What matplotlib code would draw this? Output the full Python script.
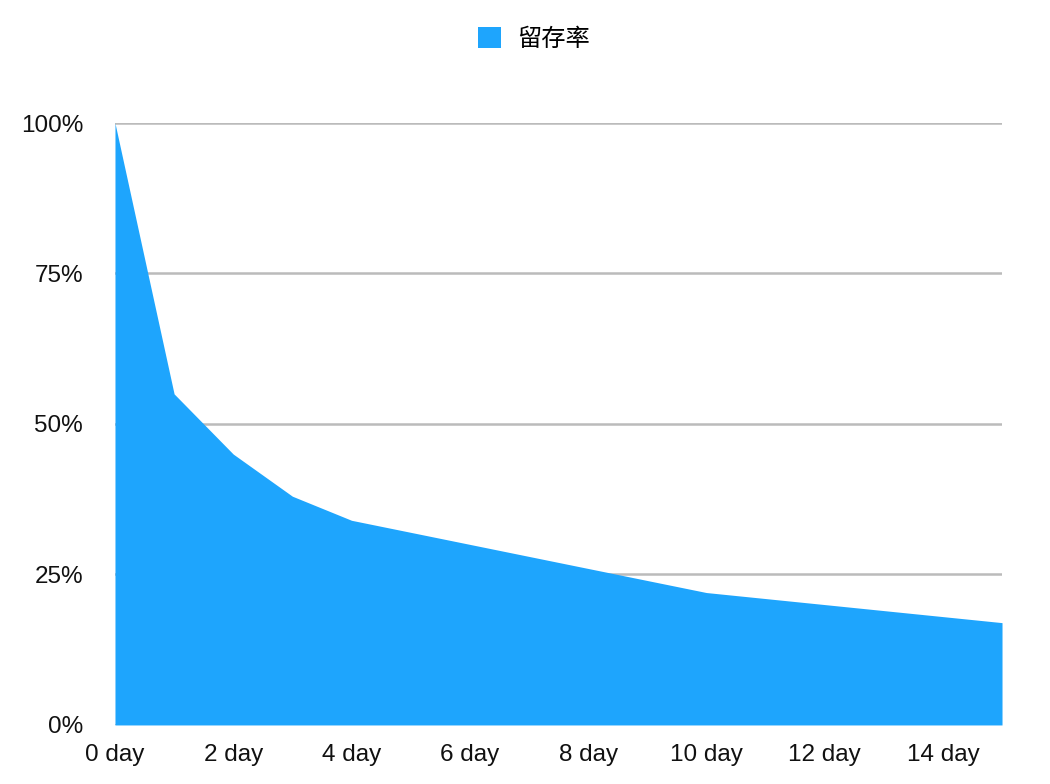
import matplotlib
matplotlib.use("Agg")
import matplotlib.pyplot as plt
from matplotlib.patches import Patch

plt.rcParams["font.family"] = ["Liberation Sans", "Noto Sans CJK SC", "DejaVu Sans"]

# retention by day
days = list(range(16))
retention = [100, 55, 45, 38, 34, 32, 30, 28, 26, 24, 22, 21, 20, 19, 18, 17]
tick_days = [0, 2, 4, 6, 8, 10, 12, 14]
tick_pcts = [0, 25, 50, 75, 100]
series_name = "留存率"

fill_color = "#1EA5FD"

fig = plt.figure(figsize=(10.5, 7.84), dpi=100)
ax = fig.add_axes([0.1095, 0.0753, 0.8448, 0.7678])

ax.fill_between(days, retention, 0, color=fill_color, linewidth=0, zorder=2)

ax.set_xlim(0, 15)
ax.set_ylim(0, 100)
ax.set_xticks(tick_days)
ax.set_xticklabels([f"{d} day" for d in tick_days])
ax.set_yticks(tick_pcts)
ax.set_yticklabels([f"{p}%" for p in tick_pcts], va="center_baseline")

ax.grid(axis="y", color="#BBBBBB", linewidth=1.8, zorder=1)
ax.set_axisbelow(True)
for s in ax.spines.values():
    s.set_visible(False)
ax.tick_params(length=0, labelsize=17.5, colors="#111111")
ax.tick_params(axis="x", pad=14)
ax.tick_params(axis="y", pad=23)

handles = [Patch(facecolor=fill_color, edgecolor="none", label=series_name)]
fig.legend(handles=handles, loc="upper center", bbox_to_anchor=(0.5086, 0.995),
           frameon=False, handlelength=0.95, handleheight=0.95,
           handletextpad=0.68, prop={"family": ["Noto Sans CJK SC", "DejaVu Sans"], "size": 17.5})

fig.savefig("out.png", dpi=100)
